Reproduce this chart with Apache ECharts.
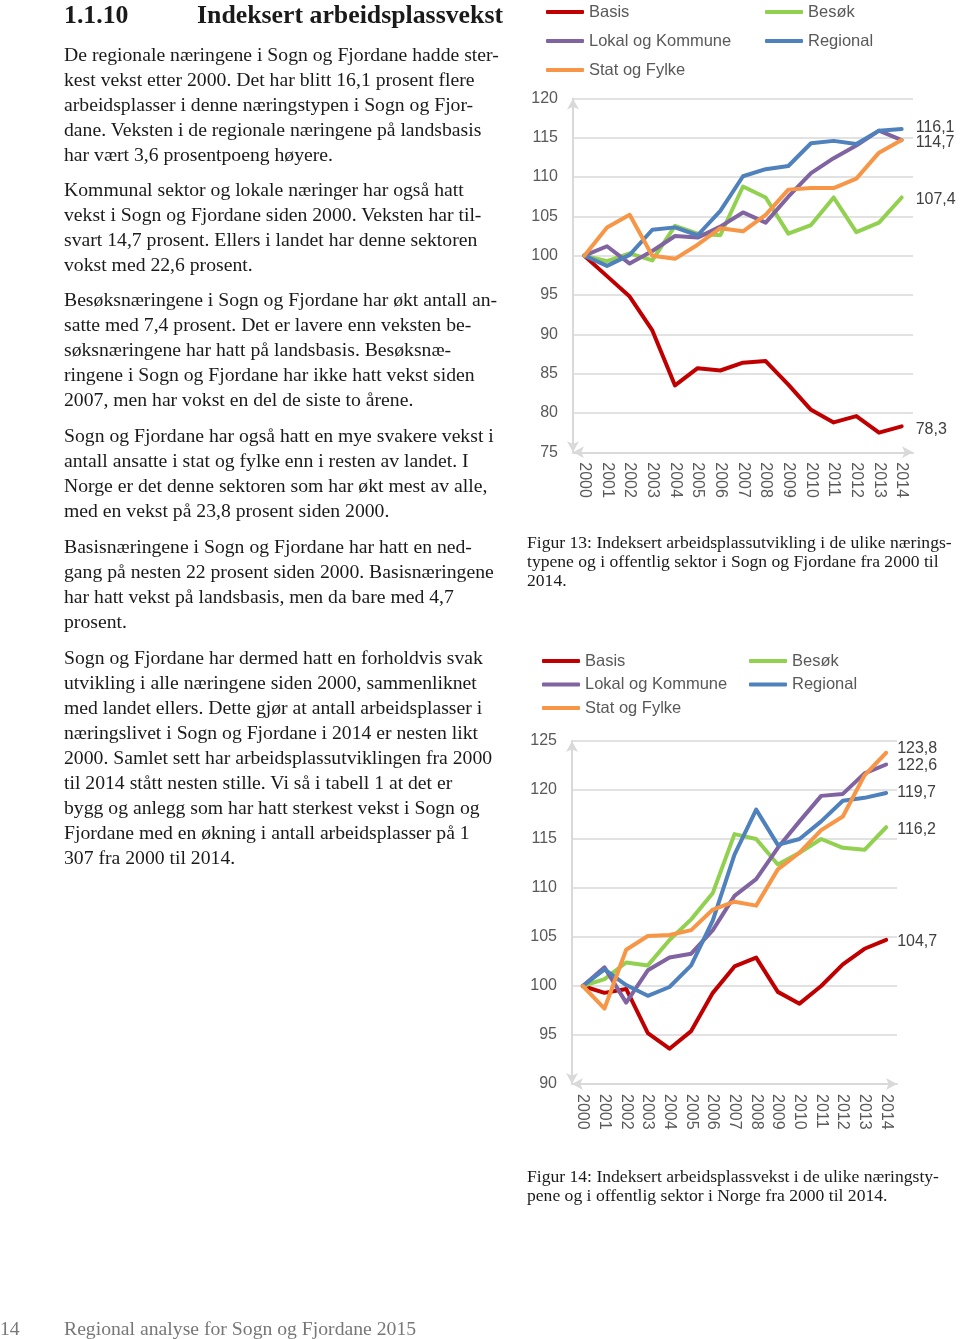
<!DOCTYPE html>
<html><head><meta charset="utf-8">
<script src="https://cdn.jsdelivr.net/npm/echarts@6/dist/echarts.min.js"></script>
<style>
html,body{margin:0;padding:0;background:#fff;}
body{width:960px;height:1339px;position:relative;overflow:hidden;}
#chart{position:absolute;left:0;top:0;width:960px;height:1339px;}
.t{position:absolute;font-family:"Liberation Serif","DejaVu Serif",serif;color:#1a1a1a;white-space:nowrap;}
.p{left:64px;font-size:19.7px;line-height:25px;}
.h{top:0;font-size:25.8px;font-weight:bold;line-height:30px;}
.cap{left:527px;font-size:17.6px;line-height:19px;}
.foot{top:1316px;font-size:19.7px;line-height:25px;color:#777;}
</style></head><body>
<div id="chart"></div>
<div class="t h" style="left:64px">1.1.10</div>
<div class="t h" style="left:197px">Indeksert arbeidsplassvekst</div>
<div class="t p" style="top:42px">De regionale næringene i Sogn og Fjordane hadde ster-<br>kest vekst etter 2000. Det har blitt 16,1 prosent flere<br>arbeidsplasser i denne næringstypen i Sogn og Fjor-<br>dane. Veksten i de regionale næringene på landsbasis<br>har vært 3,6 prosentpoeng høyere.</div>
<div class="t p" style="top:177px">Kommunal sektor og lokale næringer har også hatt<br>vekst i Sogn og Fjordane siden 2000. Veksten har til-<br>svart 14,7 prosent. Ellers i landet har denne sektoren<br>vokst med 22,6 prosent.</div>
<div class="t p" style="top:287px">Besøksnæringene i Sogn og Fjordane har økt antall an-<br>satte med 7,4 prosent. Det er lavere enn veksten be-<br>søksnæringene har hatt på landsbasis. Besøksnæ-<br>ringene i Sogn og Fjordane har ikke hatt vekst siden<br>2007, men har vokst en del de siste to årene.</div>
<div class="t p" style="top:423px">Sogn og Fjordane har også hatt en mye svakere vekst i<br>antall ansatte i stat og fylke enn i resten av landet. I<br>Norge er det denne sektoren som har økt mest av alle,<br>med en vekst på 23,8 prosent siden 2000.</div>
<div class="t p" style="top:534px">Basisnæringene i Sogn og Fjordane har hatt en ned-<br>gang på nesten 22 prosent siden 2000. Basisnæringene<br>har hatt vekst på landsbasis, men da bare med 4,7<br>prosent.</div>
<div class="t p" style="top:645px">Sogn og Fjordane har dermed hatt en forholdvis svak<br>utvikling i alle næringene siden 2000, sammenliknet<br>med landet ellers. Dette gjør at antall arbeidsplasser i<br>næringslivet i Sogn og Fjordane i 2014 er nesten likt<br>2000. Samlet sett har arbeidsplassutviklingen fra 2000<br>til 2014 stått nesten stille. Vi så i tabell 1 at det er<br>bygg og anlegg som har hatt sterkest vekst i Sogn og<br>Fjordane med en økning i antall arbeidsplasser på 1<br>307 fra 2000 til 2014.</div>
<div class="t cap" style="top:533px">Figur 13: Indeksert arbeidsplassutvikling i de ulike nærings-<br>typene og i offentlig sektor i Sogn og Fjordane fra 2000 til<br>2014.</div>
<div class="t cap" style="top:1167px">Figur 14: Indeksert arbeidsplassvekst i de ulike næringsty-<br>pene og i offentlig sektor i Norge fra 2000 til 2014.</div>
<div class="t foot" style="left:0">14</div>
<div class="t foot" style="left:64px">Regional analyse for Sogn og Fjordane 2015</div>
<script>
const years = ['2000','2001','2002','2003','2004','2005','2006','2007','2008','2009','2010','2011','2012','2013','2014'];
const seriesNames = ['Basis','Besøk','Lokal og Kommune','Regional','Stat og Fylke'];

// Figur 13: Sogn og Fjordane
const sfBasis    = [100,97.4,94.8,90.5,83.5,85.7,85.4,86.4,86.6,83.6,80.4,78.8,79.6,77.5,78.3];
const sfBesok    = [100,99.3,100.3,99.4,103.8,102.8,102.6,108.8,107.4,102.8,103.9,107.4,103.0,104.2,107.4];
const sfLokal    = [100,101.2,99.0,100.6,102.5,102.3,103.7,105.5,104.2,107.5,110.5,112.4,114.0,115.9,114.7];
const sfRegional = [100,98.7,100.1,103.3,103.6,102.6,105.7,110.1,111.0,111.4,114.3,114.6,114.2,115.9,116.1];
const sfStat     = [100,103.6,105.2,100.0,99.6,101.4,103.5,103.1,105.2,108.4,108.6,108.6,109.8,113.1,114.7];

// Figur 14: Norge
const noBasis    = [100,99.3,99.7,95.2,93.6,95.4,99.3,102.0,102.9,99.4,98.2,100.0,102.2,103.8,104.7];
const noBesok    = [100,100.7,102.4,102.1,104.7,106.8,109.5,115.5,115.0,112.4,113.6,115.0,114.1,113.9,116.2];
const noLokal    = [100,101.9,98.3,101.6,102.9,103.3,105.7,109.2,110.9,114.1,116.8,119.4,119.6,121.7,122.6];
const noRegional = [100,101.7,100.1,99.0,99.9,102.1,106.7,113.4,118.0,114.4,115.0,116.8,118.9,119.2,119.7];
const noStat     = [100,97.7,103.7,105.1,105.2,105.7,107.8,108.6,108.2,111.9,113.6,115.9,117.3,121.5,123.8];

const sfTicks = [75,120,5];
const noTicks = [90,125,5];

const colors = ['#C00000','#92D050','#8064A2','#4F81BD','#F79646'];
const font = '"Liberation Sans", Arial, sans-serif';
const gray = '#595959';

function fmt(v){ v = Array.isArray(v) ? v[v.length-1] : v; return Number(v).toFixed(1).replace('.', ','); }

function mkSeries(name, idx, arr, grid, showLabel, offY, dist){
  return {name, type:'line', xAxisIndex:grid, yAxisIndex:grid, data:arr, symbol:'none',
    color:colors[idx], lineStyle:{width:4, color:colors[idx], cap:'round', join:'round'},
    endLabel:{show:showLabel, distance:dist, offset:[0,offY||0], formatter:p=>fmt(p.value),
      color:'#404040', fontSize:16, fontFamily:font},
    emphasis:{disabled:true}, animation:false, z:2+idx};
}

function xAxis(grid){
  return {type:'category', gridIndex:grid, data:years, boundaryGap:true,
    axisLine:{show:true, lineStyle:{color:'#d9d9d9', width:2}, symbol:['arrow','arrow'], symbolSize:[9,11]},
    axisTick:{show:false},
    axisLabel:{rotate:-90, margin:10, color:gray, fontSize:16, fontFamily:font, interval:0}};
}
function yAxis(grid, t){
  return {type:'value', gridIndex:grid, min:t[0], max:t[1], interval:t[2],
    axisLine:{show:true, lineStyle:{color:'#d9d9d9', width:2}, symbol:['arrow','arrow'], symbolSize:[9,11]},
    axisTick:{show:false},
    splitLine:{show:true, lineStyle:{color:'#d9d9d9', width:1.5}},
    axisLabel:{margin:15, color:gray, fontSize:16, fontFamily:font}};
}
function legend(data, left, top, gap){
  return {data, orient:'vertical', left, top, itemGap:gap, itemWidth:38, itemHeight:4, icon:'roundRect',
    selectedMode:false, padding:0,
    textStyle:{color:gray, fontSize:16.5, fontFamily:font, lineHeight:18}};
}

const chart = echarts.init(document.getElementById('chart'), null, {renderer:'canvas'});
chart.setOption({
  animation:false,
  backgroundColor:'transparent',
  grid:[
    {left:573, right:47, top:98.4, height:353.9, outerBoundsMode:'none', containLabel:false},
    {left:572, right:63, top:741, height:343, outerBoundsMode:'none', containLabel:false}
  ],
  legend:[
    legend(['Basis','Lokal og Kommune','Stat og Fylke'], 546, 3, 11),
    legend(['Besøk','Regional'], 765, 3, 11),
    legend(['Basis','Lokal og Kommune','Stat og Fylke'], 542, 652, 5.5),
    legend(['Besøk','Regional'], 749, 652, 5.5)
  ],
  xAxis:[xAxis(0), xAxis(1)],
  yAxis:[yAxis(0, sfTicks), yAxis(1, noTicks)],
  series:[
    mkSeries(seriesNames[0],0,sfBasis,0,true,3,14),
    mkSeries(seriesNames[1],1,sfBesok,0,true,2,14),
    mkSeries(seriesNames[2],2,sfLokal,0,true,3,14),
    mkSeries(seriesNames[3],3,sfRegional,0,true,-1,14),
    mkSeries(seriesNames[4],4,sfStat,0,false,0,14),
    mkSeries(seriesNames[0],0,noBasis,1,true,1.5,11),
    mkSeries(seriesNames[1],1,noBesok,1,true,2.5,11),
    mkSeries(seriesNames[2],2,noLokal,1,true,1.5,11),
    mkSeries(seriesNames[3],3,noRegional,1,true,-0.5,11),
    mkSeries(seriesNames[4],4,noStat,1,true,-4.5,11)
  ]
});
</script>
</body></html>
